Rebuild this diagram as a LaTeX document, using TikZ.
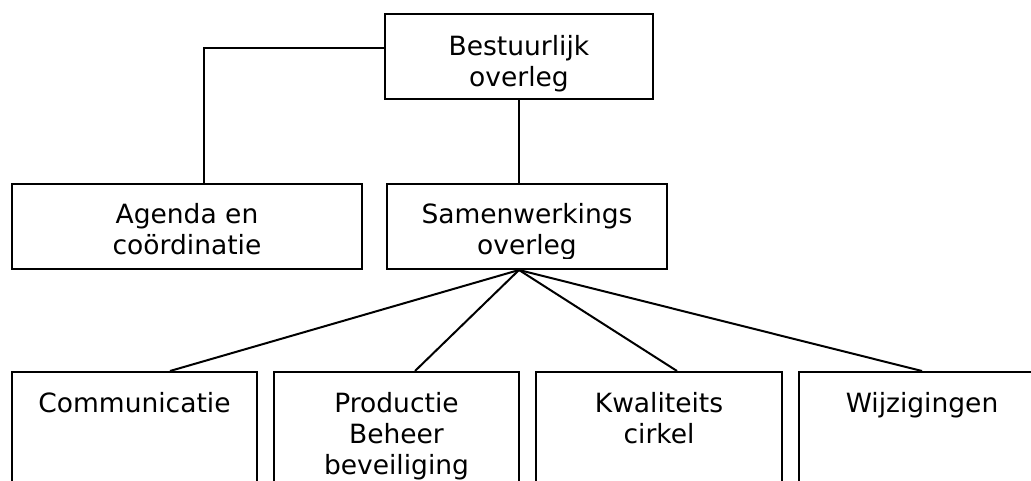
\documentclass[tikz,border=0pt]{standalone}
\usepackage{fontspec}
\setmainfont{DejaVu Sans}
\begin{document}
\begin{tikzpicture}[x=1pt,y=-1pt,
  box/.style={draw=black, line width=2pt, rectangle, inner sep=0pt},
  lbl/.style={anchor=north, align=center, inner sep=0pt, font=\fontsize{26.5}{31}\selectfont},
  link/.style={draw=black, line width=2pt}]
  \clip (0,0) rectangle (1031,481);
  % boxes
  \node[box, minimum width=268pt, minimum height=85pt] (top) at (519,56.5) {};
  \node[box, minimum width=350pt, minimum height=85pt] (agenda) at (187,226.5) {};
  \node[box, minimum width=280pt, minimum height=85pt] (samen) at (527,226.5) {};
  \node[box, minimum width=245pt, minimum height=160pt] (comm) at (134.5,452) {};
  \node[box, minimum width=245pt, minimum height=160pt] (prod) at (396.5,452) {};
  \node[box, minimum width=246pt, minimum height=160pt] (kwal) at (659,452) {};
  \node[box, minimum width=246pt, minimum height=160pt] (wijz) at (922,452) {};
  % labels (the text frames of the two upper boxes cut off the descenders)
  \begin{scope}
    \clip (top.north west) rectangle ([yshift=8pt]top.south east);
    \node[lbl] (ttop) at ([yshift=-22pt]top.north) {Bestuurlijk\\overleg};
  \end{scope}
  \begin{scope}
    \clip (samen.north west) rectangle ([yshift=11pt]samen.south east);
    \node[lbl] (tsamen) at ([yshift=-20pt]samen.north) {Samenwerkings\\overleg};
  \end{scope}
  \node[lbl] (tagenda) at ([yshift=-20pt]agenda.north) {Agenda en\\coördinatie};
  \node[lbl] (tcomm) at ([yshift=-21pt]comm.north) {Communicatie};
  \node[lbl] (tprod) at ([yshift=-21pt]prod.north) {Productie\\Beheer\\beveiliging};
  \node[lbl] (tkwal) at ([yshift=-21pt]kwal.north) {Kwaliteits\\cirkel};
  \node[lbl] (twijz) at ([yshift=-21pt]wijz.north) {Wijzigingen};
  % connectors
  \draw[link] ([yshift=8.5pt]top.west) -| ([xshift=17pt]agenda.north);
  \draw[link] (top.south) -- ([xshift=-8pt]samen.north);
  \draw[link] ([xshift=-8pt]samen.south) -- ([xshift=35.5pt]comm.north);
  \draw[link] ([xshift=-8pt]samen.south) -- ([xshift=18.5pt]prod.north);
  \draw[link] ([xshift=-8pt]samen.south) -- ([xshift=18pt]kwal.north);
  \draw[link] ([xshift=-8pt]samen.south) -- (wijz.north);
\end{tikzpicture}
\end{document}
